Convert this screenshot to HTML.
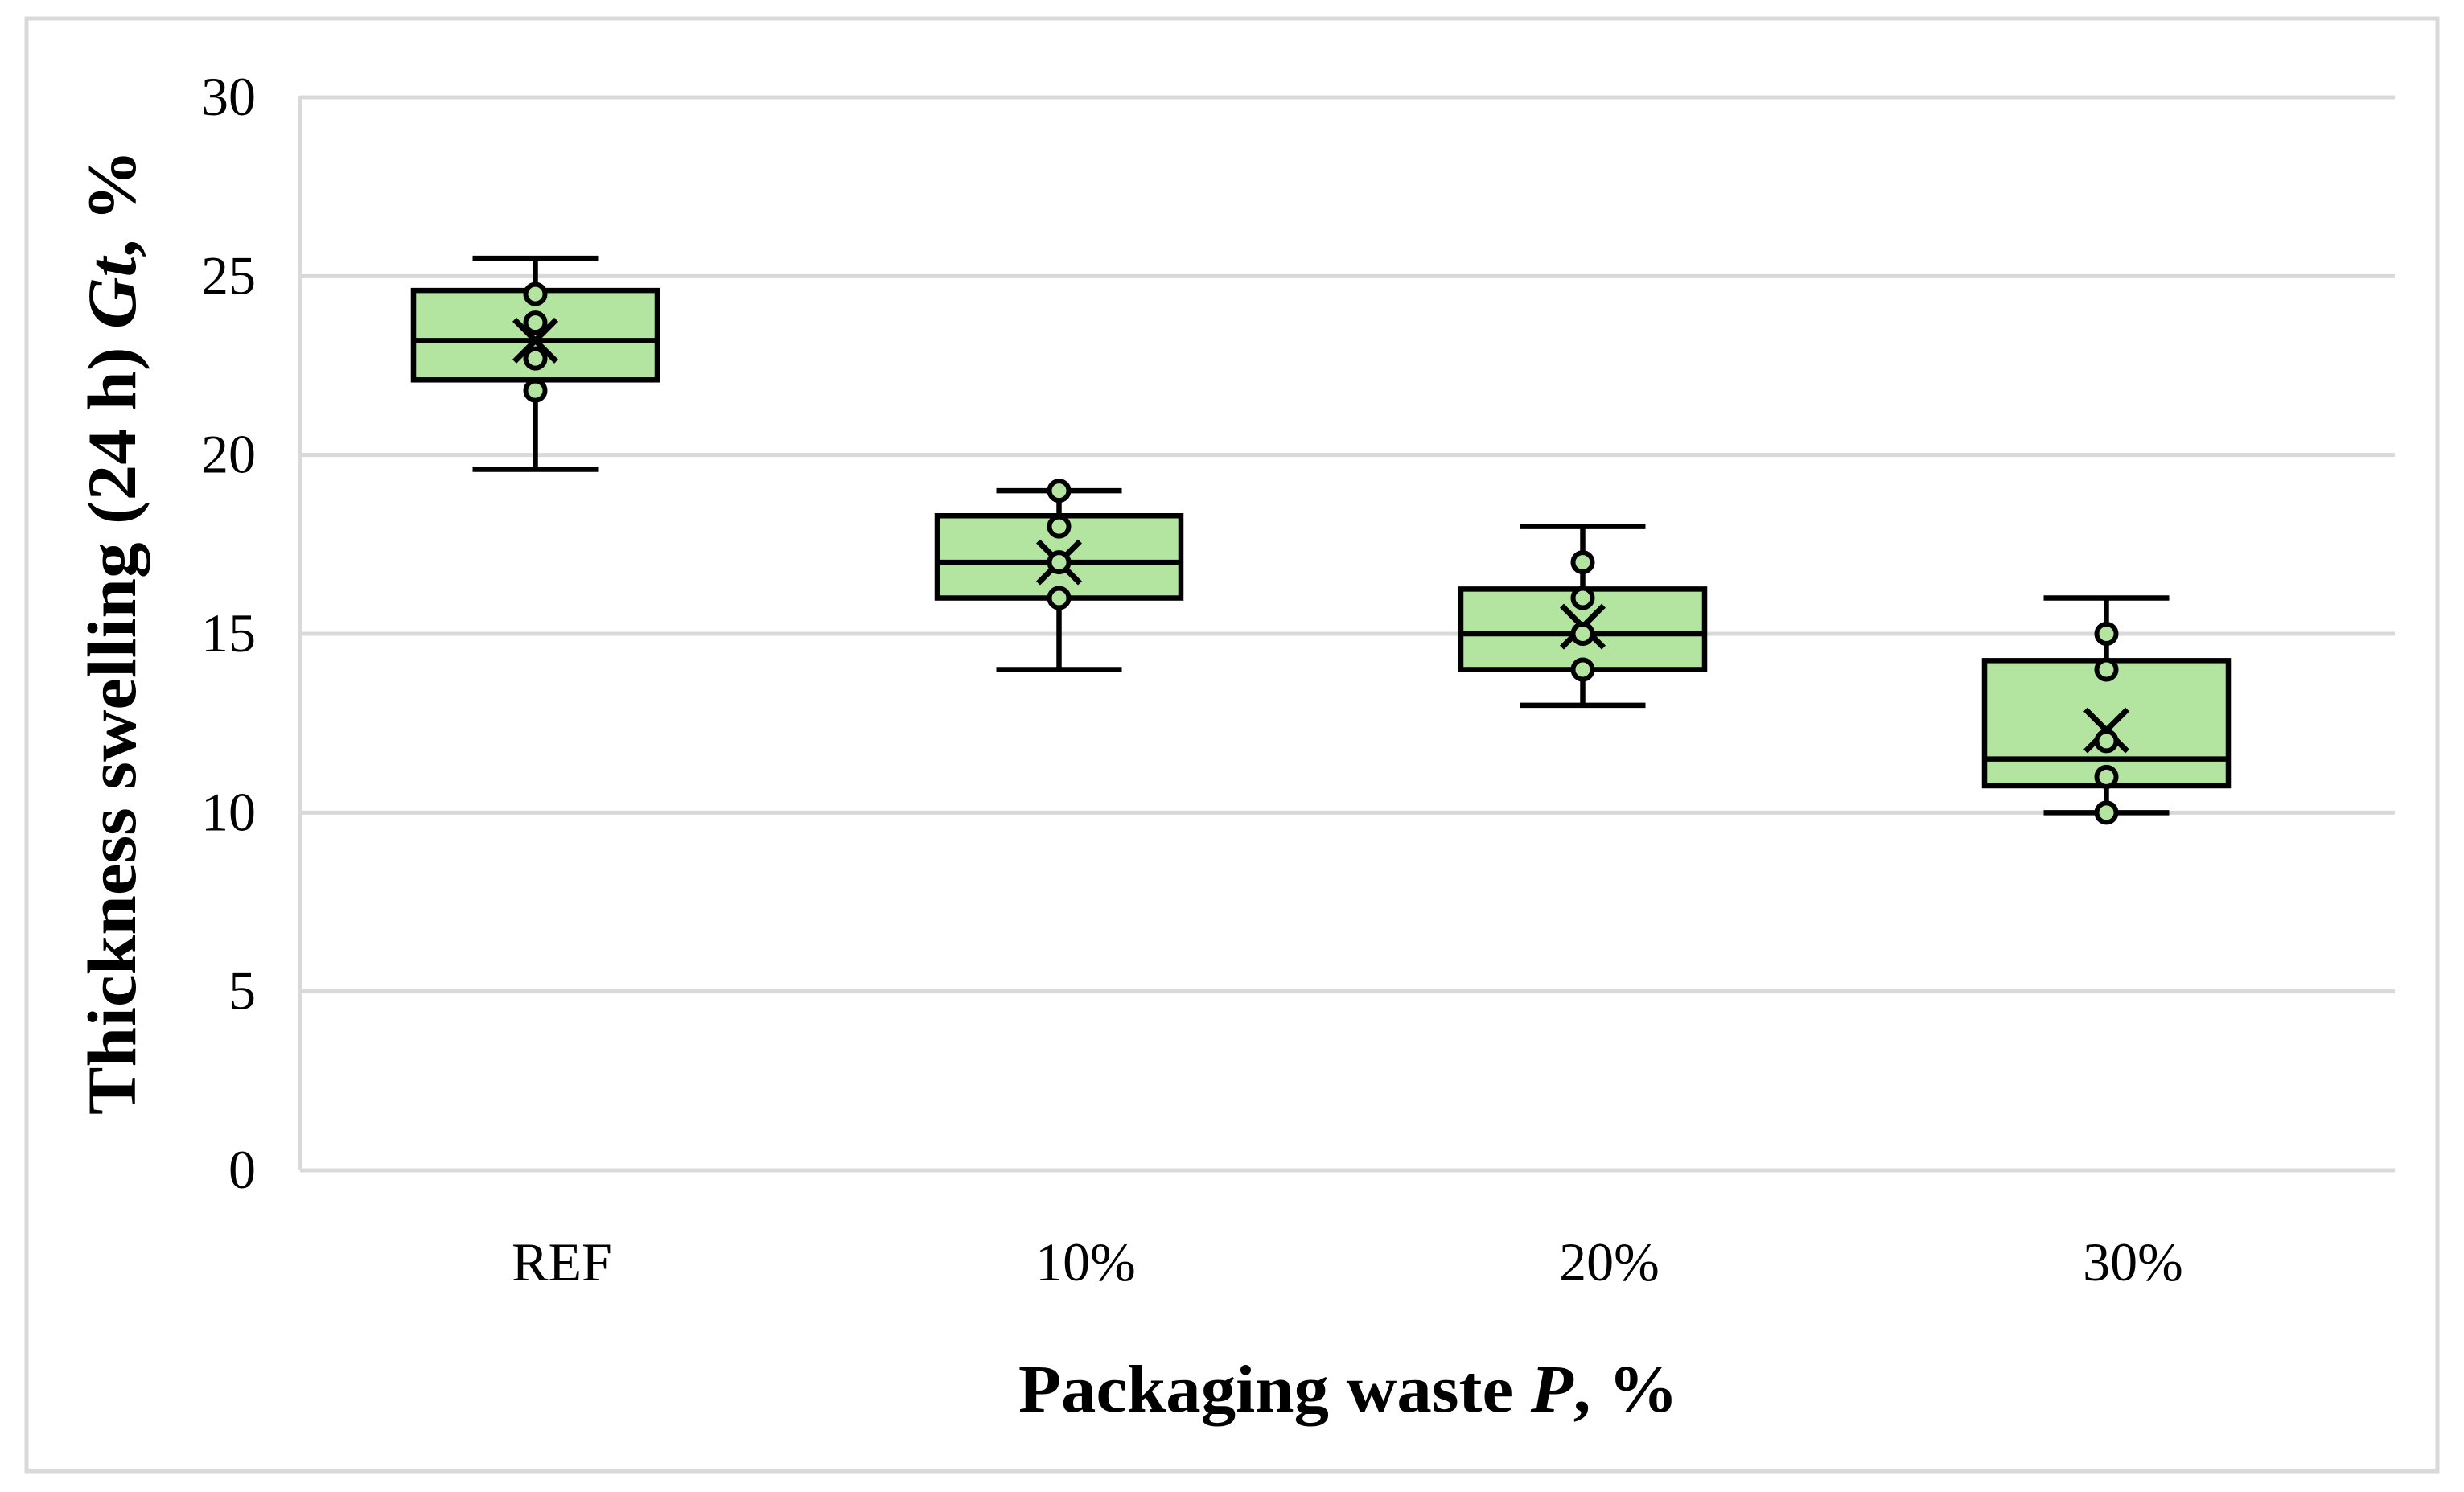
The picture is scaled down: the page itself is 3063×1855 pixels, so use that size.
<!DOCTYPE html>
<html><head><meta charset="utf-8"><style>
html,body{margin:0;padding:0;background:#fff;}
svg{display:block;font-family:"Liberation Serif",serif;}
</style></head><body>
<svg id="chart" width="3063" height="1855" viewBox="0 0 3063 1855" xmlns="http://www.w3.org/2000/svg">
<rect x="33" y="23" width="2997" height="1806" fill="#fff" stroke="#d9d9d9" stroke-width="5"/>
<g id="grid"></g>
<g id="yticks"></g>
<g id="xticks"></g>
<g id="boxes"></g>
<text x="1676" y="1755" text-anchor="middle" font-size="84" font-weight="bold" textLength="820" lengthAdjust="spacingAndGlyphs">Packaging waste <tspan font-style="italic">P</tspan>, %</text>
<text transform="translate(168,786) rotate(-90)" text-anchor="middle" font-size="86" font-weight="bold" textLength="1200" lengthAdjust="spacingAndGlyphs">Thickness swelling (24 h) <tspan font-style="italic">Gt</tspan>, %</text>
</svg>
<script>
const categories = ["REF","10%","20%","30%"];
const whiskerMin = [19.6,14,13,10];
const whiskerMax = [25.5,19,18,16];
const q1 = [22.1,16,14,10.75];
const q3 = [24.6,18.3,16.25,14.25];
const median = [23.2,17,15,11.5];
const mean = [23.2,17,15.2,12.3];
const points = [[24.5,23.7,22.7,21.8],[19,18,17,16],[17,16,15,14],[15,14,12,11,10]];
const yTicks = [0,5,10,15,20,25,30];

const NS="http://www.w3.org/2000/svg";
const L=373,R=2977,T=121,B=1455,yMax=30;
const y=v=>B-(v/yMax)*(B-T);
const band=(R-L)/categories.length;
const xl=i=>L+band*(i+0.5);
const x=i=>xl(i)-33;
function mk(tag,attrs,parent){const e=document.createElementNS(NS,tag);for(const k in attrs)e.setAttribute(k,attrs[k]);document.getElementById(parent).appendChild(e);return e;}

yTicks.forEach(t=>{
  if(t>0){const g=mk('line',{x1:L,x2:R,y1:y(t),y2:y(t),stroke:'#d9d9d9','stroke-width':5},'grid');
  
  }
  const tx=mk('text',{x:318,y:y(t)+22,'text-anchor':'end','font-size':68},'yticks');
  tx.textContent=t;
  
  
});
const ax=mk('line',{x1:L,x2:L,y1:T-2,y2:B,stroke:'#d9d9d9','stroke-width':5},'grid');


const bx=mk('line',{x1:L,x2:R,y1:B,y2:B,stroke:'#d9d9d9','stroke-width':5},'grid');



categories.forEach((c,i)=>{
  const tx=mk('text',{x:xl(i),y:1592,'text-anchor':'middle','font-size':68},'xticks');
  tx.textContent=c;
  
  
  const cx=x(i),bw=303,cw=156,sw=6.5;
  const wl=mk('line',{x1:cx,x2:cx,y1:y(whiskerMin[i]),y2:y(whiskerMax[i]),stroke:'#000','stroke-width':sw},'boxes');
  
  
  [whiskerMin[i],whiskerMax[i]].forEach((v,k)=>{
    const cap=mk('line',{x1:cx-cw/2,x2:cx+cw/2,y1:y(v),y2:y(v),stroke:'#000','stroke-width':sw},'boxes');
    
    
  });
  const box=mk('rect',{x:cx-bw/2,y:y(q3[i]),width:bw,height:y(q1[i])-y(q3[i]),fill:'#b3e5a1',stroke:'#000','stroke-width':sw},'boxes');
  
  
  const md=mk('line',{x1:cx-bw/2,x2:cx+bw/2,y1:y(median[i]),y2:y(median[i]),stroke:'#000','stroke-width':sw},'boxes');
  
  
  const my=y(mean[i]),s=26;
  const mx=mk('path',{d:`M${cx-s} ${my-s}L${cx+s} ${my+s}M${cx+s} ${my-s}L${cx-s} ${my+s}`,stroke:'#000','stroke-width':7,fill:'none'},'boxes');
  
  
  points[i].forEach((p,j)=>{
    const pt=mk('circle',{cx:cx,cy:y(p),r:12,fill:'#b3e5a1',stroke:'#000','stroke-width':6},'boxes');
    
    
  });
});
</script>
</body></html>
